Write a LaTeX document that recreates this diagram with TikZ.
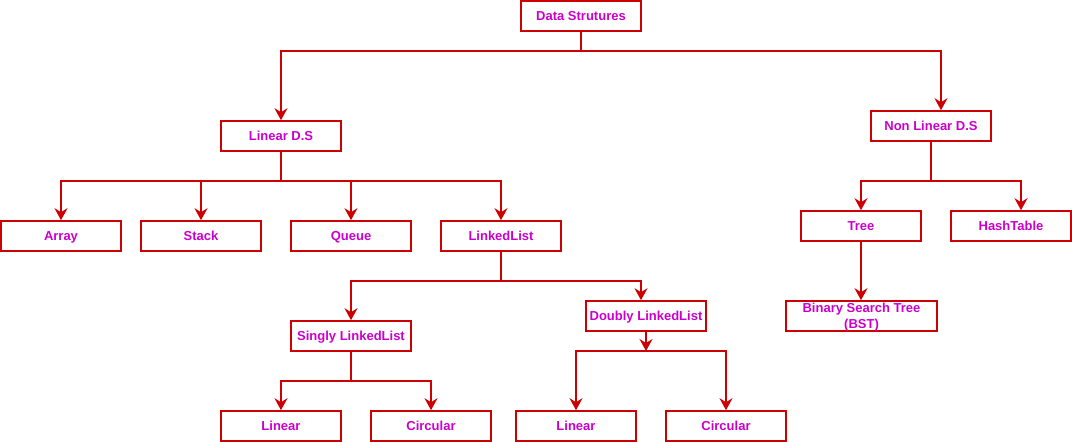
\documentclass[tikz,border=0pt]{standalone}
\usepackage{fontspec}
\setmainfont{Liberation Sans}
\usetikzlibrary{arrows.meta}
\definecolor{lred}{RGB}{204,0,0}
\definecolor{lmag}{RGB}{204,0,204}
\begin{document}
\begin{tikzpicture}[x=1pt,y=-1pt,
  box/.style={draw=lred, line width=1.6pt, text=lmag, inner sep=0pt,
    minimum height=30pt, text height=11pt, text depth=2pt,
    font=\fontsize{13}{15}\selectfont\bfseries, align=center},
  lbl/.style={text=lmag, inner sep=0pt, anchor=base, font=\fontsize{13}{15}\selectfont\bfseries},
  conn/.style={draw=lred, line width=1.6pt, -{Stealth[length=12pt,width=13pt,inset=4pt]}},
  stem/.style={draw=lred, line width=2.2pt}]
\useasboundingbox (0,0) rectangle (1072,442);
\fill[white] (0,0) rectangle (1072,442);
% nodes
\node[box, minimum width=120pt] (ds) at (581,16) {Data Strutures};
\node[box, minimum width=120pt] (lds) at (281,136) {Linear D.S};
\node[box, minimum width=120pt] (nlds) at (931,126) {Non Linear D.S};
\node[box, minimum width=120pt] (arr) at (61,236) {Array};
\node[box, minimum width=120pt] (stk) at (201,236) {Stack};
\node[box, minimum width=120pt] (que) at (351,236) {Queue};
\node[box, minimum width=120pt] (ll) at (501,236) {LinkedList};
\node[box, minimum width=120pt] (sll) at (351,336) {Singly LinkedList};
\node[box, minimum width=120pt] (dll) at (646,316) {Doubly LinkedList};
\node[box, minimum width=120pt] (slin) at (281,426) {Linear};
\node[box, minimum width=120pt] (scir) at (431,426) {Circular};
\node[box, minimum width=120pt] (dlin) at (576,426) {Linear};
\node[box, minimum width=120pt] (dcir) at (726,426) {Circular};
\node[box, minimum width=120pt] (tree) at (861,226) {Tree};
\node[box, minimum width=120pt] (hash) at (1011,226) {HashTable};
\node[draw=lred, line width=1.6pt, minimum width=151pt, minimum height=30pt, inner sep=0pt] (bst) at (861.5,316) {};
\node[lbl] (bst1) at (861.5,312.5) {Binary Search Tree};
\node[lbl] (bst2) at (861.5,328.5) {(BST)};
% junctions
\coordinate (j0) at (581,51);
\coordinate (j1) at (281,181);
\coordinate (j2) at (931,181);
\coordinate (j3) at (501,281);
\coordinate (j4) at (351,381);
\coordinate (j5) at (646,351);
% connectors
\draw[stem] (ds.south) -- (j0);
\draw[conn] (j0) -| (lds.north);
\draw[conn] (j0) -| ([xshift=10pt]nlds.north);
\draw[stem] (lds.south) -- (j1);
\draw[conn] (j1) -| (arr.north);
\draw[conn] (j1) -| (stk.north);
\draw[conn] (j1) -| (que.north);
\draw[conn] (j1) -| (ll.north);
\draw[stem] (nlds.south) -- (j2);
\draw[conn] (j2) -| (tree.north);
\draw[conn] (j2) -| ([xshift=10pt]hash.north);
\draw[conn] (tree.south) -- (tree.south |- bst.north);
\draw[stem] (ll.south) -- (j3);
\draw[conn] (j3) -| (sll.north);
\draw[conn] (j3) -| ([xshift=-5pt]dll.north);
\draw[stem] (sll.south) -- (j4);
\draw[conn] (j4) -| (slin.north);
\draw[conn] (j4) -| (scir.north);
\draw[conn] (dll.south) -- (j5);
\draw[conn] (j5) -| (dlin.north);
\draw[conn] (j5) -| (dcir.north);
\end{tikzpicture}
\end{document}
